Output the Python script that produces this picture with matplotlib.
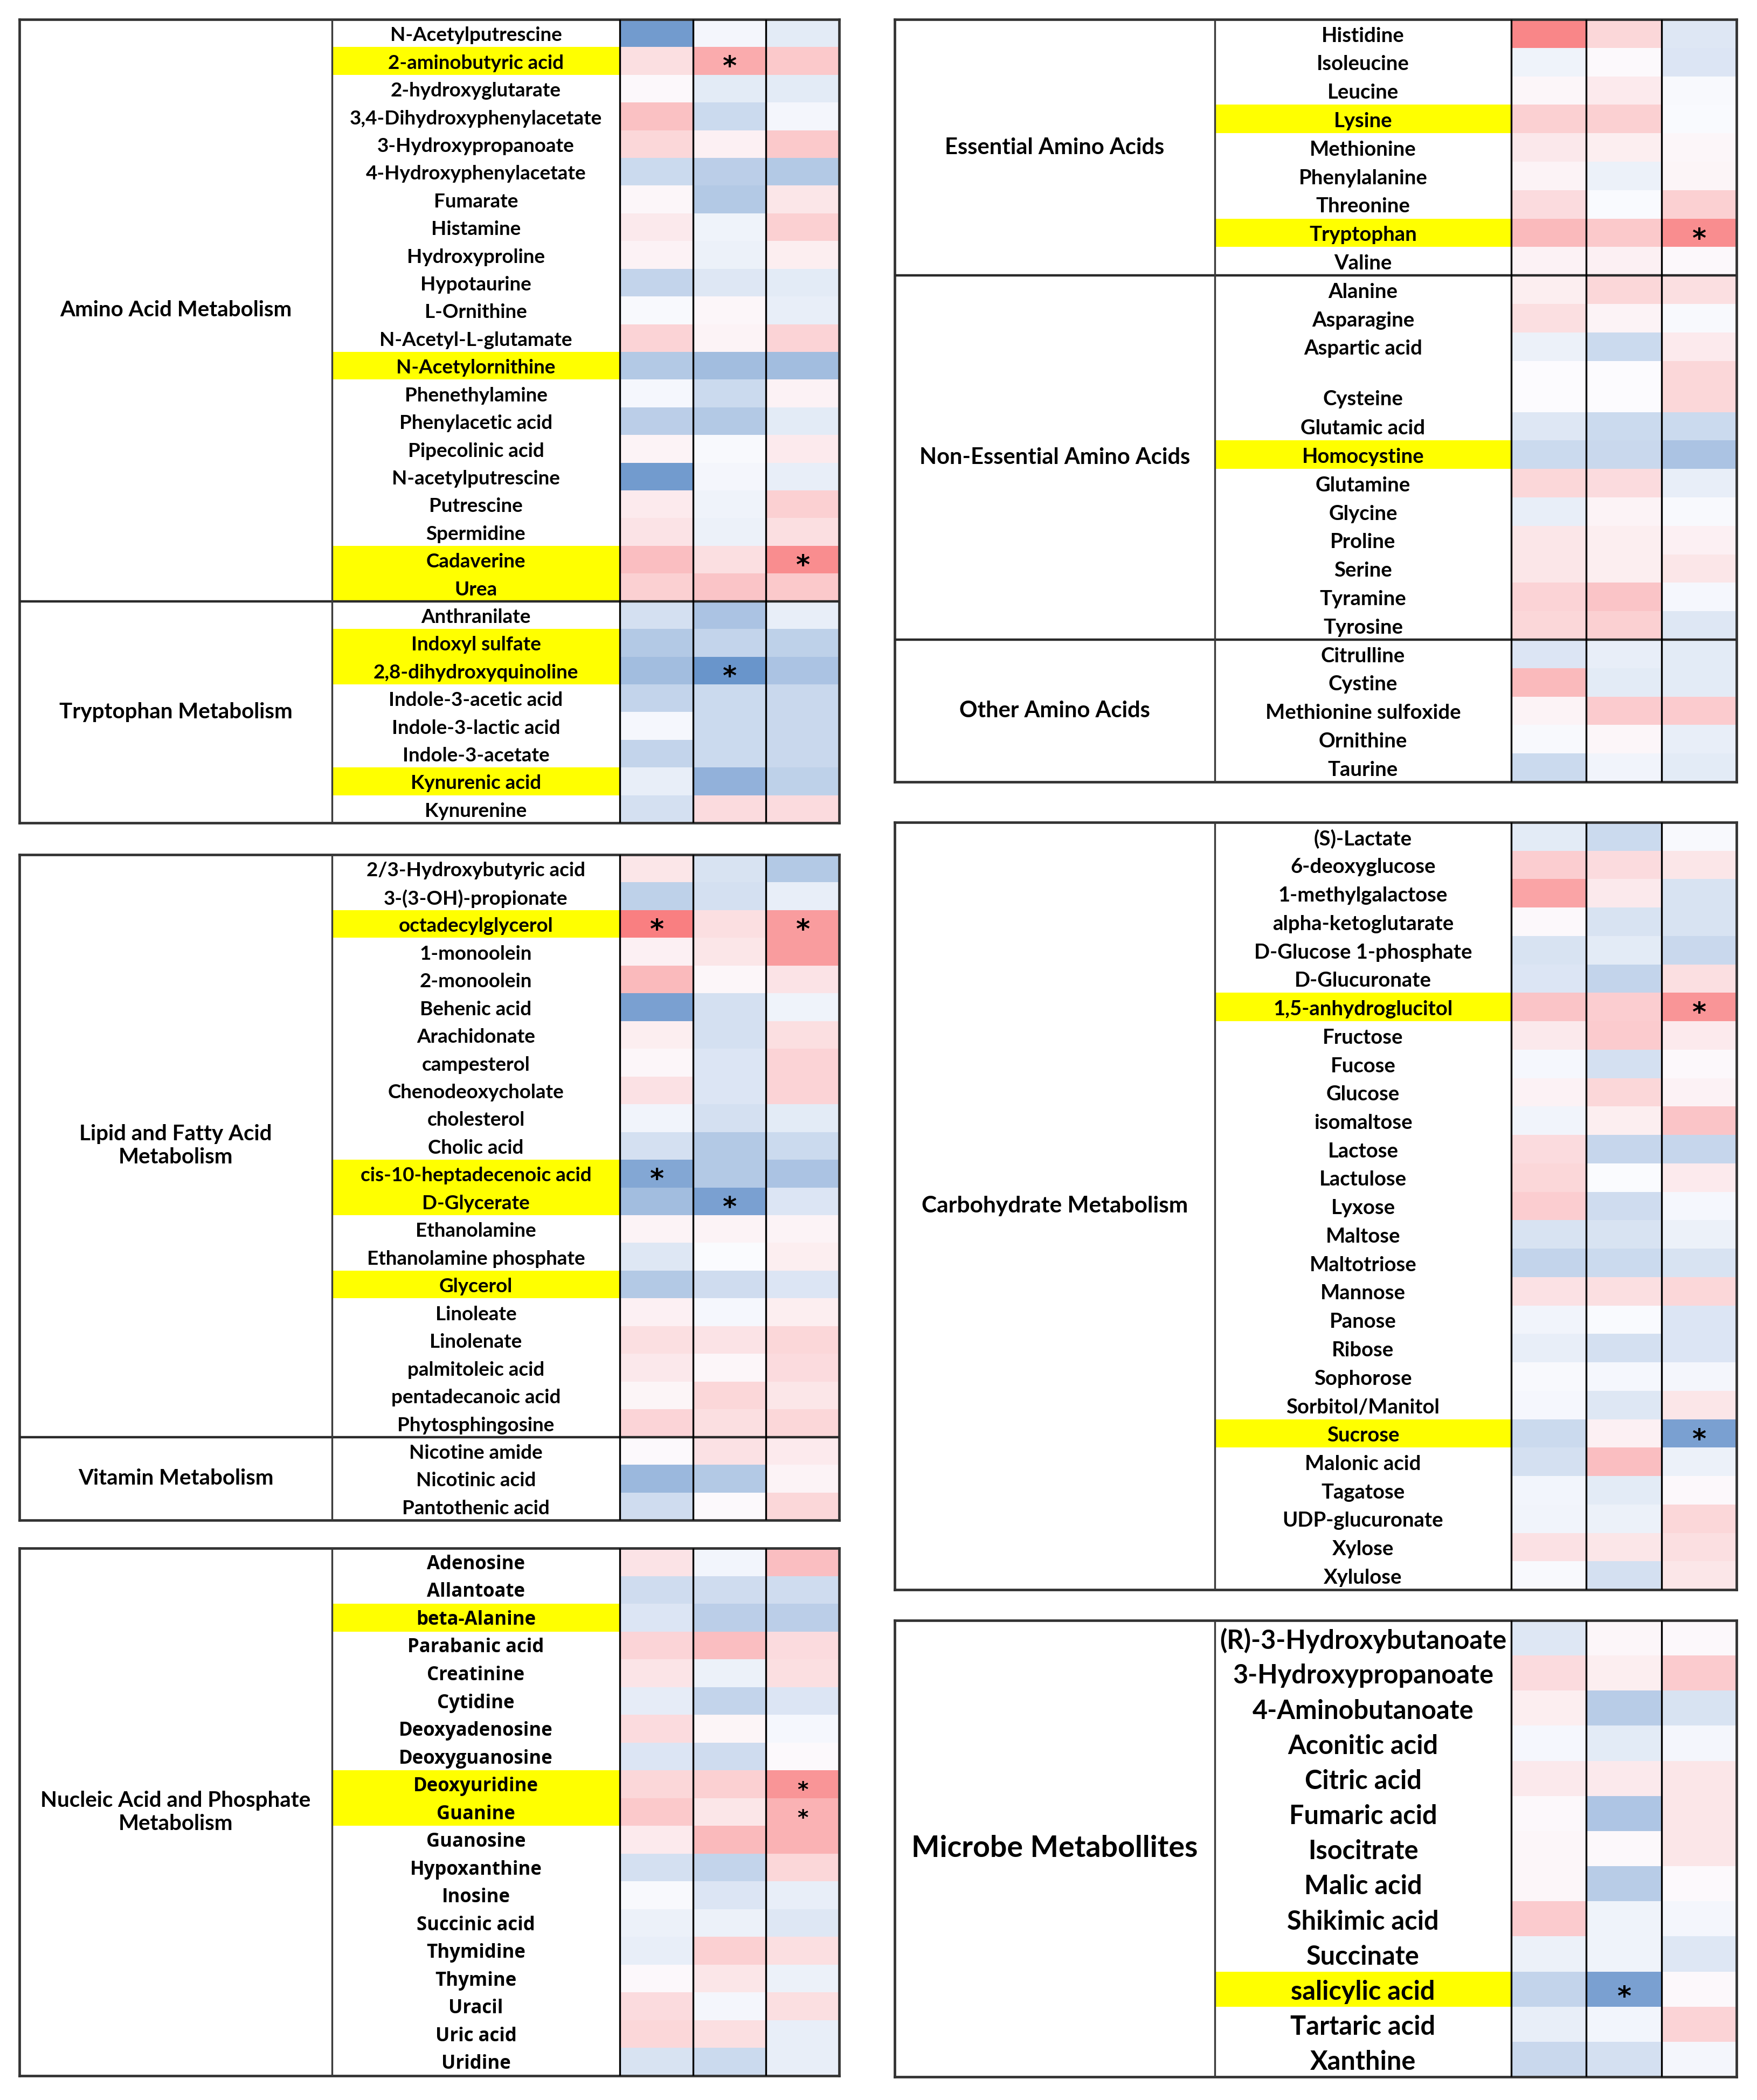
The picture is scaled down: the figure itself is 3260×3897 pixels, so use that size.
import numpy as np
import matplotlib
matplotlib.use('Agg')
import matplotlib.pyplot as plt
from matplotlib.colors import LinearSegmentedColormap

# ---- data (log-fold style scores, -1 = strongest blue, +1 = strongest red) ----
amino_names = ['N-Acetylputrescine', '2-aminobutyric acid', '2-hydroxyglutarate',
               '3,4-Dihydroxyphenylacetate', '3-Hydroxypropanoate', '4-Hydroxyphenylacetate',
               'Fumarate', 'Histamine', 'Hydroxyproline', 'Hypotaurine', 'L-Ornithine',
               'N-Acetyl-L-glutamate', 'N-Acetylornithine', 'Phenethylamine', 'Phenylacetic acid',
               'Pipecolinic acid', 'N-acetylputrescine', 'Putrescine', 'Spermidine',
               'Cadaverine', 'Urea']
amino_vals = [[-0.85, -0.05, -0.15], [0.20, 0.55, 0.35], [0.03, -0.15, -0.15],
              [0.40, -0.30, -0.05], [0.25, 0.08, 0.35], [-0.30, -0.40, -0.45],
              [0.04, -0.45, 0.15], [0.13, -0.08, 0.30], [0.07, -0.10, 0.10],
              [-0.35, -0.18, -0.15], [-0.03, 0.04, -0.12], [0.28, 0.06, 0.28],
              [-0.45, -0.55, -0.55], [-0.04, -0.30, 0.07], [-0.40, -0.45, -0.15],
              [0.06, -0.03, 0.12], [-0.85, -0.05, -0.12], [0.12, -0.08, 0.30],
              [0.17, -0.10, 0.20], [0.42, 0.20, 0.75], [0.30, 0.38, 0.35]]

trp_names = ['Anthranilate', 'Indoxyl sulfate', '2,8-dihydroxyquinoline', 'Indole-3-acetic acid',
             'Indole-3-lactic acid', 'Indole-3-acetate', 'Kynurenic acid', 'Kynurenine']
trp_vals = [[-0.25, -0.50, -0.12], [-0.45, -0.35, -0.38], [-0.55, -0.90, -0.50],
            [-0.35, -0.30, -0.32], [-0.04, -0.30, -0.32], [-0.35, -0.30, -0.32],
            [-0.12, -0.65, -0.38], [-0.25, 0.22, 0.22]]

lipid_names = ['2/3-Hydroxybutyric acid', '3-(3-OH)-propionate', 'octadecylglycerol', '1-monoolein',
               '2-monoolein', 'Behenic acid', 'Arachidonate', 'campesterol', 'Chenodeoxycholate',
               'cholesterol', 'Cholic acid', 'cis-10-heptadecenoic acid', 'D-Glycerate',
               'Ethanolamine', 'Ethanolamine phosphate', 'Glycerol', 'Linoleate', 'Linolenate',
               'palmitoleic acid', 'pentadecanoic acid', 'Phytosphingosine']
lipid_vals = [[0.15, -0.22, -0.45], [-0.38, -0.25, -0.12], [0.85, 0.20, 0.65],
              [0.08, 0.15, 0.65], [0.45, 0.04, 0.17], [-0.80, -0.25, -0.08],
              [0.10, -0.25, 0.20], [0.04, -0.20, 0.28], [0.18, -0.20, 0.28],
              [-0.07, -0.25, -0.15], [-0.25, -0.45, -0.30], [-0.75, -0.45, -0.50],
              [-0.55, -0.80, -0.20], [0.06, 0.06, 0.06], [-0.18, -0.01, 0.10],
              [-0.45, -0.28, -0.20], [0.08, -0.04, 0.10], [0.20, 0.17, 0.25],
              [0.14, 0.04, 0.22], [0.05, 0.25, 0.15], [0.27, 0.20, 0.25]]

vit_names = ['Nicotine amide', 'Nicotinic acid', 'Pantothenic acid']
vit_vals = [[0.02, 0.18, 0.12], [-0.60, -0.45, 0.06], [-0.28, 0.02, 0.25]]

nuc_names = ['Adenosine', 'Allantoate', 'beta-Alanine', 'Parabanic acid', 'Creatinine', 'Cytidine',
             'Deoxyadenosine', 'Deoxyguanosine', 'Deoxyuridine', 'Guanine', 'Guanosine',
             'Hypoxanthine', 'Inosine', 'Succinic acid', 'Thymidine', 'Thymine', 'Uracil',
             'Uric acid', 'Uridine']
nuc_vals = [[0.17, -0.06, 0.42], [-0.28, -0.28, -0.28], [-0.20, -0.40, -0.40],
            [0.27, 0.42, 0.22], [0.16, -0.10, 0.20], [-0.14, -0.35, -0.20],
            [0.22, 0.05, -0.04], [-0.20, -0.28, 0.02], [0.25, 0.30, 0.70],
            [0.35, 0.15, 0.50], [0.12, 0.45, 0.50], [-0.25, -0.35, 0.25],
            [-0.03, -0.20, -0.12], [-0.10, -0.10, -0.18], [-0.12, 0.30, 0.20],
            [0.03, 0.15, -0.10], [0.22, -0.05, 0.20], [0.25, 0.20, -0.12],
            [-0.22, -0.30, -0.12]]

ess_names = ['Histidine', 'Isoleucine', 'Leucine', 'Lysine', 'Methionine', 'Phenylalanine',
             'Threonine', 'Tryptophan', 'Valine']
ess_vals = [[0.80, 0.25, -0.18], [-0.08, 0.02, -0.20], [0.04, 0.12, -0.03],
            [0.30, 0.30, -0.02], [0.14, 0.10, 0.04], [0.06, -0.10, 0.05],
            [0.22, -0.02, 0.30], [0.45, 0.35, 0.75], [0.07, 0.08, 0.03]]

noness_names = ['Alanine', 'Asparagine', 'Aspartic acid', 'Cysteine', 'Glutamic acid', 'Homocystine',
                'Glutamine', 'Glycine', 'Proline', 'Serine', 'Tyramine', 'Tyrosine']
noness_vals = [[0.10, 0.25, 0.20], [0.20, 0.06, -0.03], [-0.10, -0.30, 0.12],
               [0.00, 0.00, 0.25], [-0.18, -0.30, -0.30], [-0.30, -0.32, -0.50],
               [0.25, 0.22, -0.12], [-0.12, 0.06, -0.03], [0.15, 0.10, 0.08],
               [0.15, 0.10, 0.15], [0.28, 0.38, -0.04], [0.25, 0.30, -0.18]]

other_names = ['Citrulline', 'Cystine', 'Methionine sulfoxide', 'Ornithine', 'Taurine']
other_vals = [[-0.20, -0.12, -0.15], [0.45, -0.15, -0.15], [0.06, 0.33, 0.33],
              [-0.03, 0.04, -0.12], [-0.30, -0.07, -0.15]]

carb_names = ['(S)-Lactate', '6-deoxyglucose', '1-methylgalactose', 'alpha-ketoglutarate',
              'D-Glucose 1-phosphate', 'D-Glucuronate', '1,5-anhydroglucitol', 'Fructose', 'Fucose',
              'Glucose', 'isomaltose', 'Lactose', 'Lactulose', 'Lyxose', 'Maltose', 'Maltotriose',
              'Mannose', 'Panose', 'Ribose', 'Sophorose', 'Sorbitol/Manitol', 'Sucrose',
              'Malonic acid', 'Tagatose', 'UDP-glucuronate', 'Xylose', 'Xylulose']
carb_vals = [[-0.15, -0.30, -0.03], [0.32, 0.22, 0.15], [0.60, 0.13, -0.22],
             [0.03, -0.22, -0.22], [-0.22, -0.15, -0.32], [-0.20, -0.35, 0.20],
             [0.38, 0.32, 0.70], [0.13, 0.33, 0.12], [-0.04, -0.25, 0.03],
             [0.07, 0.25, 0.07], [-0.07, 0.10, 0.38], [0.22, -0.33, -0.33],
             [0.25, -0.01, 0.12], [0.32, -0.28, -0.04], [-0.22, -0.22, -0.10],
             [-0.35, -0.30, -0.22], [0.18, 0.20, 0.25], [-0.07, -0.02, -0.20],
             [-0.12, -0.25, -0.20], [-0.03, -0.04, -0.05], [-0.04, -0.18, 0.15],
             [-0.30, 0.08, -0.80], [-0.25, 0.42, -0.10], [-0.06, -0.15, 0.03],
             [-0.07, -0.10, 0.25], [0.18, 0.15, 0.20], [-0.03, -0.25, 0.15]]

mic_names = ['(R)-3-Hydroxybutanoate', '3-Hydroxypropanoate', '4-Aminobutanoate', 'Aconitic acid',
             'Citric acid', 'Fumaric acid', 'Isocitrate', 'Malic acid', 'Shikimic acid',
             'Succinate', 'salicylic acid', 'Tartaric acid', 'Xanthine']
mic_vals = [[-0.18, 0.04, 0.03], [0.22, 0.10, 0.33], [0.10, -0.42, -0.22],
            [-0.04, -0.15, -0.05], [0.13, 0.13, 0.15], [0.03, -0.48, 0.15],
            [0.04, 0.03, 0.15], [0.04, -0.42, 0.02], [0.33, -0.08, -0.05],
            [-0.10, -0.08, -0.18], [-0.35, -0.80, 0.03], [-0.12, -0.06, 0.28],
            [-0.32, -0.25, -0.05]]

highlighted = ['2-aminobutyric acid', 'N-Acetylornithine', 'Cadaverine', 'Urea', 'Indoxyl sulfate',
               '2,8-dihydroxyquinoline', 'Kynurenic acid', 'octadecylglycerol',
               'cis-10-heptadecenoic acid', 'D-Glycerate', 'Glycerol', 'beta-Alanine',
               'Deoxyuridine', 'Guanine', 'Lysine', 'Tryptophan', 'Homocystine',
               '1,5-anhydroglucitol', 'Sucrose', 'salicylic acid']

# (metabolite, column) pairs marked significant
stars = [('2-aminobutyric acid', 1), ('Cadaverine', 2), ('2,8-dihydroxyquinoline', 1),
         ('octadecylglycerol', 0), ('octadecylglycerol', 2), ('cis-10-heptadecenoic acid', 0),
         ('D-Glycerate', 1), ('Deoxyuridine', 2), ('Guanine', 2), ('Tryptophan', 2),
         ('1,5-anhydroglucitol', 2), ('Sucrose', 2), ('salicylic acid', 1)]

tall_rows = {'Cysteine': 1.8}

W, H = 3260, 3897
cmap = LinearSegmentedColormap.from_list('excel3', ['#5A8AC6', '#FCFCFF', '#F8696B'])

fig = plt.figure(figsize=(W / 100, H / 100), dpi=100)
fig.patch.set_facecolor('white')


def draw_panel(box, xg, xn, groups, fs_name=26.5, fs_group=29, name_font='Lato', star_fs=36):
    x0, y0, x1, y1 = box
    ax = fig.add_axes([x0 / W, 1 - y1 / H, (x1 - x0) / W, (y1 - y0) / H])
    hc = (x1 - xn) / 3
    left = -(xn - x0) / hc
    gx = -(xn - xg) / hc

    names, vals, heights, bounds, labels = [], [], [], [], []
    for label, gnames, gvals in groups:
        labels.append((label, len(names)))
        names += gnames
        vals += gvals
        heights += [tall_rows.get(n, 1.0) for n in gnames]
        bounds.append(len(names))
    edges = np.concatenate([[0], np.cumsum(heights)])
    total = edges[-1]
    centers = (edges[:-1] + edges[1:]) / 2

    ax.pcolormesh([0, 1, 2, 3], edges, np.array(vals), cmap=cmap, vmin=-1, vmax=1)

    for i, n in enumerate(names):
        if n in highlighted:
            ax.barh(centers[i], -gx, left=gx, height=heights[i], color='#FFFF00', zorder=1)
        # excel cells are bottom aligned, so text sits a touch low
        ty = centers[i] + 0.08 if heights[i] == 1 else edges[i + 1] - 0.45
        ax.text(gx / 2, ty, n, ha='center', va='center', fontsize=fs_name,
                fontweight='bold', family=name_font, zorder=3)

    for n, c in stars:
        if n in names:
            i = names.index(n)
            ax.text(c + 0.5, centers[i] + 0.24, '*', ha='center', va='center',
                    fontsize=star_fs, fontweight='bold', family='DejaVu Sans', zorder=4)

    # group labels
    for k, (label, start) in enumerate(labels):
        ymid = (edges[start] + edges[bounds[k]]) / 2
        ax.text((left + gx) / 2, ymid, label, ha='center', va='center', fontsize=fs_group,
                fontweight='bold', family='Lato', linespacing=1.2)
        if k < len(labels) - 1:
            ax.hlines(edges[bounds[k]], left, 3, color='#2a2a2a', lw=3.2, zorder=5)

    ax.vlines([gx], 0, total, color='#3a3a3a', lw=2.4, zorder=5)
    ax.vlines([0, 1, 2], 0, total, color='black', lw=2.4, zorder=5)

    ax.set_xlim(left, 3)
    ax.set_ylim(total, 0)
    ax.set_xticks([])
    ax.set_yticks([])
    for s in ax.spines.values():
        s.set_linewidth(3.4)
        s.set_color('#333333')
    return ax


draw_panel((36, 36, 1557, 1527), 616, 1150,
           [('Amino Acid Metabolism', amino_names, amino_vals),
            ('Tryptophan Metabolism', trp_names, trp_vals)])
draw_panel((36, 1586, 1557, 2821), 616, 1150,
           [('Lipid and Fatty Acid\nMetabolism', lipid_names, lipid_vals),
            ('Vitamin Metabolism', vit_names, vit_vals)])
draw_panel((36, 2873, 1557, 3852), 616, 1150,
           [('Nucleic Acid and Phosphate\nMetabolism', nuc_names, nuc_vals)],
           fs_name=25, name_font='Open Sans', star_fs=28)
draw_panel((1660, 36, 3222, 1451), 2254, 2804,
           [('Essential Amino Acids', ess_names, ess_vals),
            ('Non-Essential Amino Acids', noness_names, noness_vals),
            ('Other Amino Acids', other_names, other_vals)],
           fs_name=27.5, fs_group=30)
draw_panel((1660, 1526, 3222, 2950), 2254, 2804,
           [('Carbohydrate Metabolism', carb_names, carb_vals)],
           fs_name=27.5, fs_group=30.5)
draw_panel((1660, 3007, 3222, 3854), 2254, 2804,
           [('Microbe Metabollites', mic_names, mic_vals)],
           fs_name=35, fs_group=40)

fig.savefig('out.png', dpi=100, facecolor='white')
